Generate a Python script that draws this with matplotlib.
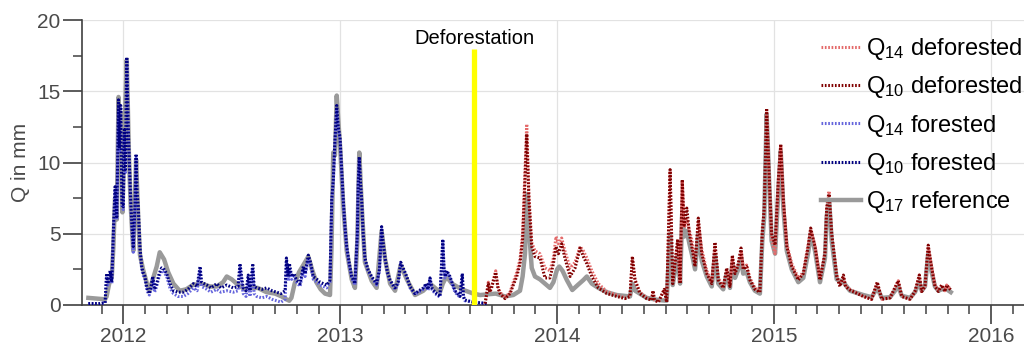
import matplotlib
matplotlib.use("Agg")
import matplotlib.pyplot as plt
from matplotlib.ticker import MultipleLocator
import numpy as np

plt.rcParams['font.family'] = ['Liberation Sans', 'DejaVu Sans']
plt.rcParams['mathtext.fontset'] = 'custom'
plt.rcParams['mathtext.rm'] = 'Liberation Sans'
plt.rcParams['mathtext.it'] = 'Liberation Sans:italic'

# ---- Forested period (decimal years) ----
forested_t = [2011.839, 2011.893, 2011.916, 2011.923, 2011.929, 2011.939, 2011.947, 2011.954,
              2011.962, 2011.970, 2011.978, 2011.982, 2011.988, 2011.994, 2012.000, 2012.005,
              2012.010, 2012.016, 2012.022, 2012.026, 2012.034, 2012.040, 2012.046, 2012.054,
              2012.059, 2012.063, 2012.069, 2012.077, 2012.085, 2012.091, 2012.100, 2012.109,
              2012.120, 2012.128, 2012.136, 2012.144, 2012.154, 2012.165, 2012.177, 2012.188,
              2012.200, 2012.215, 2012.231, 2012.252, 2012.277, 2012.298, 2012.323, 2012.340,
              2012.354, 2012.361, 2012.385, 2012.404, 2012.431, 2012.450, 2012.477, 2012.507,
              2012.529, 2012.538, 2012.547, 2012.553, 2012.566, 2012.576, 2012.584, 2012.597,
              2012.603, 2012.615, 2012.639, 2012.661, 2012.686, 2012.707, 2012.727, 2012.746,
              2012.752, 2012.761, 2012.766, 2012.776, 2012.787, 2012.799, 2012.815, 2012.830,
              2012.838, 2012.853, 2012.863, 2012.876, 2012.893, 2012.907, 2012.923, 2012.938,
              2012.953, 2012.961, 2012.968, 2012.976, 2012.984, 2012.991, 2012.999, 2013.007,
              2013.014, 2013.022, 2013.030, 2013.041, 2013.053, 2013.068, 2013.079, 2013.083,
              2013.088, 2013.094, 2013.099, 2013.106, 2013.114, 2013.128, 2013.145, 2013.168,
              2013.181, 2013.191, 2013.197, 2013.207, 2013.218, 2013.230, 2013.253, 2013.267,
              2013.279, 2013.290, 2013.307, 2013.322, 2013.345, 2013.363, 2013.383, 2013.396,
              2013.405, 2013.414, 2013.423, 2013.437, 2013.460, 2013.473, 2013.479, 2013.483,
              2013.492, 2013.506, 2013.515, 2013.529, 2013.552, 2013.563, 2013.568, 2013.575,
              2013.614, 2013.645, 2013.677]

q10_forested = [0.10, 0.10, 0.15, 2.2, 1.5, 2.4, 1.6, 5.0,
                8.3, 6.2, 14.4, 11.0, 14.0, 7.0, 6.9, 12.3,
                9.5, 17.4, 13.0, 10.9, 7.4, 5.5, 4.1, 7.0,
                10.6, 8.0, 6.9, 4.0, 2.7, 2.3, 2.0, 1.2,
                0.8, 1.3, 2.0, 1.1, 1.5, 2.2, 2.6, 2.5,
                2.2, 1.5, 1.0, 0.9, 0.9, 1.1, 1.5, 1.3,
                2.7, 1.6, 1.4, 1.2, 1.5, 1.2, 1.4, 1.2,
                1.3, 2.9, 1.8, 1.2, 1.0, 2.1, 1.0, 2.9,
                1.3, 1.2, 1.1, 1.2, 1.0, 0.9, 0.8, 1.0,
                3.3, 2.0, 2.9, 2.0, 2.2, 1.75, 1.5, 2.7,
                2.2, 3.5, 3.0, 2.0, 1.8, 1.6, 1.5, 1.4,
                1.75, 7.4, 8.8, 11.6, 14.0, 12.5, 11.8, 9.5,
                7.4, 5.5, 4.1, 3.0, 2.0, 1.5, 5.0, 8.5,
                10.4, 8.5, 7.4, 5.0, 3.3, 2.5, 2.0, 1.5,
                2.5, 5.5, 4.5, 3.3, 2.3, 1.75, 1.2, 1.6,
                3.0, 2.6, 2.0, 1.3, 0.8, 1.0, 1.2, 1.5,
                1.1, 1.9, 1.2, 0.9, 0.6, 4.6, 2.5, 2.0,
                2.4, 2.0, 1.6, 1.0, 0.6, 2.2, 0.6, 0.35,
                0.2, 0.15, 0.10]

q14_forested = [0.10, 0.10, 0.15, 2.0, 1.4, 2.2, 1.5, 4.8,
                8.0, 6.0, 14.0, 10.8, 13.8, 6.8, 6.7, 12.0,
                9.3, 17.2, 12.6, 10.5, 7.0, 5.0, 3.7, 6.6,
                10.3, 7.6, 6.4, 3.7, 2.5, 2.1, 1.8, 1.0,
                0.7, 1.1, 1.8, 0.9, 1.3, 2.0, 2.4, 2.3,
                2.0, 1.2, 0.8, 0.6, 0.6, 0.8, 1.2, 1.0,
                2.4, 1.3, 1.1, 0.9, 1.1, 0.9, 1.0, 0.9,
                1.0, 2.6, 1.4, 0.8, 0.6, 1.7, 0.6, 2.5,
                0.8, 0.6, 0.5, 0.6, 0.4, 0.3, 0.2, 0.4,
                3.0, 1.7, 2.6, 1.8, 2.0, 1.6, 1.3, 2.5,
                2.0, 3.3, 2.8, 1.8, 1.6, 1.4, 1.3, 1.2,
                1.6, 7.2, 8.6, 11.4, 13.8, 12.3, 11.6, 9.3,
                7.2, 5.3, 3.9, 2.8, 1.9, 1.4, 4.8, 8.3,
                10.2, 8.3, 7.2, 4.8, 3.1, 2.4, 1.9, 1.4,
                2.4, 5.3, 4.3, 3.1, 2.2, 1.65, 1.1, 1.5,
                2.9, 2.5, 1.9, 1.2, 0.75, 0.9, 1.1, 1.4,
                1.0, 1.8, 1.1, 0.8, 0.55, 4.5, 2.4, 1.9,
                2.3, 1.9, 1.5, 0.9, 0.55, 2.1, 0.55, 0.3,
                0.2, 0.15, 0.10]

# ---- Deforested period (decimal years) ----
deforested_t = [2013.668, 2013.683, 2013.690, 2013.698, 2013.717, 2013.727, 2013.737, 2013.760,
                2013.783, 2013.798, 2013.814, 2013.829, 2013.841, 2013.852, 2013.860, 2013.870,
                2013.883, 2013.898, 2013.921, 2013.944, 2013.967, 2013.983, 2013.995, 2014.006,
                2014.021, 2014.036, 2014.060, 2014.083, 2014.106, 2014.121, 2014.137, 2014.160,
                2014.190, 2014.229, 2014.275, 2014.313, 2014.336, 2014.347, 2014.359, 2014.382,
                2014.413, 2014.436, 2014.442, 2014.449, 2014.467, 2014.494, 2014.505, 2014.521,
                2014.533, 2014.556, 2014.567, 2014.577, 2014.586, 2014.598, 2014.610, 2014.621,
                2014.636, 2014.651, 2014.667, 2014.690, 2014.713, 2014.728, 2014.743, 2014.766,
                2014.782, 2014.797, 2014.808, 2014.820, 2014.833, 2014.848, 2014.858, 2014.874,
                2014.889, 2014.912, 2014.935, 2014.946, 2014.955, 2014.966, 2014.978, 2014.989,
                2015.005, 2015.020, 2015.031, 2015.043, 2015.059, 2015.082, 2015.112, 2015.135,
                2015.158, 2015.169, 2015.189, 2015.212, 2015.235, 2015.243, 2015.254, 2015.266,
                2015.289, 2015.304, 2015.320, 2015.330, 2015.350, 2015.412, 2015.450, 2015.476,
                2015.497, 2015.535, 2015.573, 2015.589, 2015.627, 2015.650, 2015.670, 2015.681,
                2015.696, 2015.711, 2015.727, 2015.742, 2015.758, 2015.773, 2015.788, 2015.796,
                2015.815]

q10_deforested = [0.10, 1.5, 0.9, 1.2, 2.3, 1.2, 0.8, 0.45,
                  0.8, 1.4, 2.0, 2.9, 4.6, 8.8, 12.0, 7.4,
                  4.1, 3.4, 3.3, 1.9, 1.9, 2.9, 4.1, 3.6,
                  4.3, 3.3, 2.0, 2.6, 4.0, 3.4, 2.9, 2.0,
                  1.2, 0.8, 0.6, 0.45, 0.6, 3.4, 1.75, 0.8,
                  0.45, 0.35, 1.0, 0.35, 0.2, 1.1, 0.2, 9.5,
                  1.5, 4.6, 1.5, 8.8, 5.6, 6.8, 5.0, 4.1,
                  2.7, 6.1, 3.6, 2.2, 1.5, 4.4, 1.75, 1.2,
                  2.6, 1.3, 3.5, 2.2, 2.7, 4.0, 2.5, 2.7,
                  1.75, 1.1, 0.9, 5.0, 6.8, 13.8, 9.0, 5.0,
                  4.2, 8.8, 11.3, 7.4, 4.1, 2.7, 1.75, 2.2,
                  4.1, 5.4, 4.1, 1.75, 3.6, 6.8, 7.8, 5.0,
                  2.0, 1.3, 2.1, 1.3, 1.05, 0.6, 0.4, 1.6,
                  0.4, 0.5, 1.7, 0.6, 0.4, 0.95, 2.1, 0.95,
                  1.3, 4.2, 2.6, 1.3, 0.95, 1.4, 0.95, 1.4,
                  1.05]

q14_deforested = [0.10, 1.6, 1.0, 1.3, 2.4, 1.3, 0.9, 0.5,
                  0.9, 1.6, 2.3, 3.2, 5.0, 9.5, 12.7, 7.8,
                  4.4, 3.8, 3.6, 2.6, 2.4, 3.3, 4.8, 4.3,
                  4.7, 3.8, 2.6, 3.0, 4.1, 3.8, 3.3, 2.4,
                  1.5, 0.95, 0.7, 0.5, 0.6, 3.3, 1.8, 0.9,
                  0.5, 0.35, 1.0, 0.35, 0.2, 1.1, 0.2, 9.4,
                  1.6, 4.5, 1.6, 8.7, 5.4, 6.0, 5.2, 4.6,
                  3.0, 5.8, 3.9, 2.4, 1.6, 4.2, 1.9, 1.3,
                  2.5, 1.4, 3.3, 2.4, 2.8, 3.8, 2.7, 2.8,
                  1.9, 1.2, 1.0, 5.4, 6.6, 13.6, 8.6, 4.6,
                  3.6, 8.6, 11.2, 7.3, 4.3, 2.9, 1.9, 2.3,
                  4.3, 5.3, 4.2, 1.9, 3.7, 6.9, 8.0, 5.0,
                  2.2, 1.4, 2.0, 1.3, 1.1, 0.6, 0.4, 1.6,
                  0.4, 0.5, 1.7, 0.6, 0.4, 0.95, 2.1, 0.95,
                  1.3, 4.1, 2.7, 1.4, 1.0, 1.4, 1.0, 1.4,
                  1.1]

# ---- Reference catchment Q17 (decimal years) ----
reference_t = [2011.839, 2011.916, 2011.923, 2011.935, 2011.947, 2011.954, 2011.962, 2011.970,
               2011.978, 2011.984, 2011.990, 2011.996, 2012.005, 2012.016, 2012.026, 2012.034,
               2012.046, 2012.059, 2012.069, 2012.077, 2012.091, 2012.109, 2012.120, 2012.136,
               2012.154, 2012.168, 2012.188, 2012.207, 2012.231, 2012.260, 2012.290, 2012.320,
               2012.360, 2012.400, 2012.430, 2012.460, 2012.477, 2012.500, 2012.530, 2012.560,
               2012.600, 2012.620, 2012.660, 2012.700, 2012.730, 2012.752, 2012.765, 2012.775,
               2012.790, 2012.810, 2012.830, 2012.853, 2012.870, 2012.890, 2012.910, 2012.930,
               2012.953, 2012.960, 2012.968, 2012.976, 2012.984, 2012.991, 2013.000, 2013.014,
               2013.030, 2013.053, 2013.068, 2013.079, 2013.088, 2013.099, 2013.114, 2013.145,
               2013.168, 2013.191, 2013.207, 2013.230, 2013.253, 2013.279, 2013.307, 2013.345,
               2013.383, 2013.414, 2013.460, 2013.473, 2013.490, 2013.515, 2013.560, 2013.614,
               2013.645, 2013.683, 2013.717, 2013.760, 2013.798, 2013.829, 2013.841, 2013.852,
               2013.862, 2013.872, 2013.883, 2013.898, 2013.921, 2013.944, 2013.967, 2013.983,
               2014.000, 2014.010, 2014.025, 2014.045, 2014.070, 2014.095, 2014.121, 2014.137,
               2014.160, 2014.190, 2014.229, 2014.275, 2014.336, 2014.347, 2014.360, 2014.413,
               2014.467, 2014.505, 2014.521, 2014.533, 2014.556, 2014.567, 2014.577, 2014.586,
               2014.598, 2014.610, 2014.621, 2014.636, 2014.651, 2014.667, 2014.690, 2014.713,
               2014.728, 2014.743, 2014.766, 2014.782, 2014.797, 2014.808, 2014.820, 2014.833,
               2014.848, 2014.858, 2014.874, 2014.889, 2014.912, 2014.935, 2014.946, 2014.955,
               2014.966, 2014.978, 2014.989, 2015.005, 2015.020, 2015.031, 2015.043, 2015.059,
               2015.082, 2015.112, 2015.135, 2015.158, 2015.169, 2015.189, 2015.212, 2015.235,
               2015.243, 2015.254, 2015.266, 2015.289, 2015.320, 2015.350, 2015.412, 2015.450,
               2015.476, 2015.497, 2015.535, 2015.573, 2015.589, 2015.627, 2015.650, 2015.670,
               2015.681, 2015.696, 2015.711, 2015.727, 2015.742, 2015.758, 2015.773, 2015.796,
               2015.815]

q17_reference = [0.5, 0.4, 0.6, 1.5, 2.0, 4.0, 7.5, 6.0,
                 14.6, 11.0, 13.5, 6.5, 12.0, 17.2, 10.5, 7.0,
                 3.8, 10.2, 6.0, 3.5, 2.5, 1.5, 1.0, 1.8,
                 2.7, 3.7, 3.2, 2.3, 1.5, 1.0, 1.1, 1.4,
                 1.5, 1.3, 1.3, 1.6, 2.0, 1.8, 1.4, 1.1,
                 1.2, 1.2, 0.9, 0.8, 0.6, 0.4, 0.3, 0.5,
                 1.5, 2.3, 2.8, 3.4, 2.5, 1.6, 1.1, 0.8,
                 0.7, 4.0, 10.7, 10.5, 14.7, 13.0, 11.0, 7.0,
                 3.8, 1.8, 1.2, 4.5, 10.7, 7.0, 3.0, 1.7,
                 1.2, 5.2, 3.2, 1.5, 1.0, 2.8, 1.8, 0.7,
                 1.0, 1.5, 0.9, 1.5, 2.0, 1.5, 1.1, 0.8,
                 0.7, 0.75, 0.8, 0.6, 0.7, 1.0, 2.0, 3.6,
                 7.8, 5.0, 2.6, 2.0, 1.8, 1.5, 1.2, 1.6,
                 2.5, 2.7, 2.4, 1.75, 1.05, 1.4, 1.75, 2.0,
                 1.5, 1.2, 0.9, 0.7, 0.6, 1.5, 1.0, 0.5,
                 0.35, 0.3, 5.0, 1.4, 3.5, 1.5, 6.5, 4.8,
                 5.2, 4.3, 3.6, 2.5, 5.0, 3.1, 2.0, 1.3,
                 3.5, 1.5, 1.1, 2.2, 1.2, 2.9, 1.9, 2.4,
                 3.3, 2.2, 2.3, 1.6, 1.0, 0.8, 4.5, 6.2,
                 13.4, 8.5, 4.5, 3.6, 8.0, 10.8, 6.8, 3.8,
                 2.5, 1.6, 1.9, 3.7, 5.0, 3.8, 1.6, 3.3,
                 6.2, 7.4, 4.5, 1.8, 1.6, 1.0, 0.7, 0.55,
                 1.2, 0.5, 0.55, 1.3, 0.65, 0.5, 0.9, 1.6,
                 1.0, 1.3, 3.6, 2.3, 1.3, 1.0, 1.1, 1.1,
                 0.9]

deforestation_t = 2013.617
deforestation_top = 18.0

year_ticks = [2012, 2013, 2014, 2015, 2016]
q_ticks = [0, 5, 10, 15, 20]

# ---- Figure ----
fig = plt.figure(figsize=(10.24, 3.51), dpi=100)
ax = fig.add_axes([82 / 1024, 46 / 351, 942 / 1024, 285 / 351])

dot = (0, (0.55, 0.55))
ax.plot(reference_t, q17_reference, color='#9a9a9a', lw=3.2, solid_joinstyle='round',
        label=r'$\mathrm{Q}_{17}$ reference', zorder=2)
ax.plot(forested_t, q14_forested, color='#6464dc', lw=2.2, ls=dot,
        label=r'$\mathrm{Q}_{14}$ forested', zorder=3)
ax.plot(forested_t, q10_forested, color='#000080', lw=2.2, ls=dot,
        label=r'$\mathrm{Q}_{10}$ forested', zorder=4)
ax.plot(deforested_t, q14_deforested, color='#e46a6a', lw=2.2, ls=dot,
        label=r'$\mathrm{Q}_{14}$ deforested', zorder=3)
ax.plot(deforested_t, q10_deforested, color='#800000', lw=2.2, ls=dot,
        label=r'$\mathrm{Q}_{10}$ deforested', zorder=4)

ax.plot([deforestation_t, deforestation_t], [0, deforestation_top], color='#ffff00',
        lw=3.8, solid_capstyle='butt', zorder=6)
ax.text(deforestation_t, deforestation_top + 0.35, 'Deforestation', ha='center',
        va='baseline', fontsize=14.5, color='black', zorder=7)

ax.set_xlim(2011.8096, 2016.1526)
ax.set_ylim(0, 20)
ax.set_xticks(year_ticks)
ax.set_xticklabels([str(y) for y in year_ticks])
ax.set_yticks(q_ticks)
ax.xaxis.set_minor_locator(MultipleLocator(0.1))
ax.yaxis.set_minor_locator(MultipleLocator(2.5))

for s in ['top', 'right']:
    ax.spines[s].set_visible(False)
for s in ['left', 'bottom']:
    ax.spines[s].set_color('#404040')
    ax.spines[s].set_linewidth(1.2)

ax.tick_params(which='major', direction='out', length=13.5, width=1.2, color='#404040',
               labelsize=15, labelcolor='#4a4a4a', pad=2)
ax.tick_params(which='minor', direction='out', length=6.5, width=1.2, color='#505050')
ax.grid(True, which='major', color='#e2e2e2', lw=0.9, zorder=0)
ax.set_axisbelow(True)

ax.set_ylabel('Q in mm', fontsize=15, color='#4a4a4a', labelpad=5)

handles, labels = ax.get_legend_handles_labels()
order = [labels.index(l) for l in [r'$\mathrm{Q}_{14}$ deforested', r'$\mathrm{Q}_{10}$ deforested',
                                   r'$\mathrm{Q}_{14}$ forested', r'$\mathrm{Q}_{10}$ forested',
                                   r'$\mathrm{Q}_{17}$ reference']]
leg = ax.legend([handles[i] for i in order], [labels[i] for i in order],
                loc='upper right', bbox_to_anchor=(1022 / 1024, 1 - 36 / 351),
                bbox_transform=fig.transFigure, frameon=False, fontsize=17,
                handlelength=1.7, handletextpad=0.2, labelspacing=0.52,
                borderpad=0, borderaxespad=0)
leg.set_zorder(8)

fig.savefig('out.png', dpi=100)
